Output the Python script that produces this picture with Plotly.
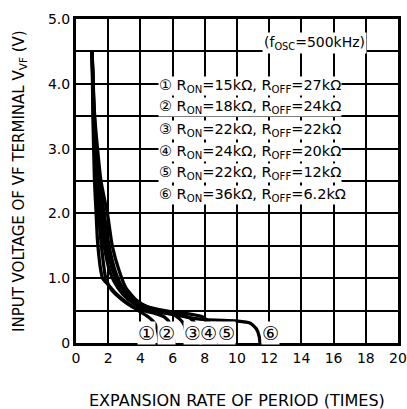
import plotly.graph_objects as go

# ---- data ----
x1 = [1.0, 1.05, 1.15, 1.25, 1.33, 1.42, 1.52, 1.65, 2.0, 2.5, 3.0, 3.5, 4.0, 4.5, 4.9, 5.1, 5.17]
y1 = [4.5, 3.5, 2.5, 2.0, 1.6, 1.35, 1.15, 1.0, 0.9, 0.76, 0.65, 0.56, 0.48, 0.4, 0.3, 0.15, 0.0]

x2 = [1.0, 1.08, 1.25, 1.4, 1.6, 1.85, 2.2, 2.8, 3.5, 4.2, 5.0, 5.5, 5.85, 6.02, 6.07]
y2 = [4.5, 3.5, 2.5, 2.0, 1.45, 1.0, 0.82, 0.68, 0.56, 0.5, 0.45, 0.4, 0.3, 0.15, 0.0]

x3 = [1.0, 1.1, 1.3, 1.5, 1.75, 2.1, 2.6, 3.2, 4.0, 5.0, 6.0, 6.4, 6.72, 6.85, 6.88]
y3 = [4.5, 3.5, 2.5, 2.0, 1.5, 1.1, 0.85, 0.68, 0.55, 0.48, 0.44, 0.38, 0.28, 0.12, 0.0]

x4 = [1.0, 1.12, 1.35, 1.6, 1.9, 2.3, 2.8, 3.4, 4.2, 5.2, 6.5, 7.1, 7.45, 7.62, 7.66]
y4 = [4.5, 3.5, 2.5, 2.0, 1.5, 1.1, 0.85, 0.68, 0.56, 0.48, 0.43, 0.38, 0.28, 0.12, 0.0]

x5 = [1.0, 1.14, 1.45, 1.75, 2.05, 2.45, 2.9, 3.5, 4.3, 5.5, 7.0, 7.9, 8.3, 8.55, 8.6]
y5 = [4.5, 3.5, 2.5, 2.0, 1.5, 1.1, 0.85, 0.68, 0.57, 0.5, 0.45, 0.4, 0.3, 0.12, 0.0]

x6 = [1.0, 1.16, 1.55, 1.95, 2.25, 2.7, 3.1, 3.8, 4.5, 5.5, 6.5, 8.0, 10.0, 10.8, 11.2, 11.38, 11.43]
y6 = [4.5, 3.5, 2.5, 2.0, 1.5, 1.1, 0.85, 0.65, 0.55, 0.48, 0.42, 0.36, 0.34, 0.31, 0.22, 0.1, 0.0]

curves = [(x1, y1), (x2, y2), (x3, y3), (x4, y4), (x5, y5), (x6, y6)]

marks = ["①", "②", "③", "④", "⑤", "⑥"]
mark_x = [4.39, 5.63, 7.25, 8.22, 9.36, 12.05]

legend_lines = [
    "① R<sub>ON</sub>=15kΩ, R<sub>OFF</sub>=27kΩ",
    "② R<sub>ON</sub>=18kΩ, R<sub>OFF</sub>=24kΩ",
    "③ R<sub>ON</sub>=22kΩ, R<sub>OFF</sub>=22kΩ",
    "④ R<sub>ON</sub>=24kΩ, R<sub>OFF</sub>=20kΩ",
    "⑤ R<sub>ON</sub>=22kΩ, R<sub>OFF</sub>=12kΩ",
    "⑥ R<sub>ON</sub>=36kΩ, R<sub>OFF</sub>=6.2kΩ",
]
legend_y = [3.97, 3.64, 3.29, 2.95, 2.62, 2.28]

y_ticks = [0, 0.5, 1, 1.5, 2, 2.5, 3, 3.5, 4, 4.5, 5]
y_labels = ["0", "", "1.0", "", "2.0", "", "3.0", "", "4.0", "", "5.0"]

FONT = "DejaVu Sans, sans-serif"

fig = go.Figure()

for cx, cy in curves:
    fig.add_trace(go.Scatter(
        x=cx, y=cy, mode="lines",
        line=dict(color="black", width=3.3, shape="spline", smoothing=0.6),
        showlegend=False, hoverinfo="skip",
    ))

# circled curve numbers near the baseline
for m, mx in zip(marks, mark_x):
    fig.add_annotation(x=mx, y=0.15, text=m, showarrow=False,
                       font=dict(size=19, color="black", family=FONT),
                       bgcolor="white", borderpad=0)

# condition legend
for t, ly in zip(legend_lines, legend_y):
    fig.add_annotation(x=5.1, y=ly, text=t, showarrow=False, xanchor="left",
                       font=dict(size=14.5, color="black", family=FONT),
                       bgcolor="white", borderpad=0)

fig.add_annotation(x=14.8, y=4.63, text="(f<sub>OSC</sub>=500kHz)", showarrow=False,
                   font=dict(size=14, color="black", family=FONT), bgcolor="white")

# axis titles placed by hand
fig.add_annotation(xref="paper", yref="paper", x=0.5, y=0, yshift=-57,
                   xanchor="center", yanchor="middle",
                   text="EXPANSION RATE OF PERIOD (TIMES)", showarrow=False,
                   font=dict(size=16, color="black", family=FONT))
fig.add_annotation(xref="paper", yref="paper", x=0, y=0.5, xshift=-57,
                   xanchor="center", yanchor="middle",
                   text="INPUT VOLTAGE OF VF TERMINAL V<sub>VF</sub> (V)",
                   textangle=-90, showarrow=False,
                   font=dict(size=15, color="black", family=FONT))

fig.update_xaxes(
    range=[0, 20], dtick=2, tick0=0, automargin=False,
    showgrid=True, gridcolor="black", gridwidth=1.5,
    showline=True, linecolor="black", linewidth=3, mirror=True,
    zeroline=False, ticks="",
    tickfont=dict(size=14, color="black", family=FONT),
)
fig.update_yaxes(
    range=[0, 5], tickvals=y_ticks, ticktext=y_labels, automargin=False,
    showgrid=True, gridcolor="black", gridwidth=1.5,
    showline=True, linecolor="black", linewidth=3, mirror=True,
    zeroline=False, ticks="",
    tickfont=dict(size=14, color="black", family=FONT),
)

fig.update_layout(
    width=407, height=409,
    margin=dict(l=76, r=9, t=19, b=66),
    plot_bgcolor="white", paper_bgcolor="white",
    font=dict(family=FONT, color="black"),
)

# drop the browser's default 8px body margin so the figure fills the window
fig.write_html("out.html", config={"displayModeBar": False},
               post_script="document.body.style.margin='0';"
               "document.body.style.overflow='hidden';")
